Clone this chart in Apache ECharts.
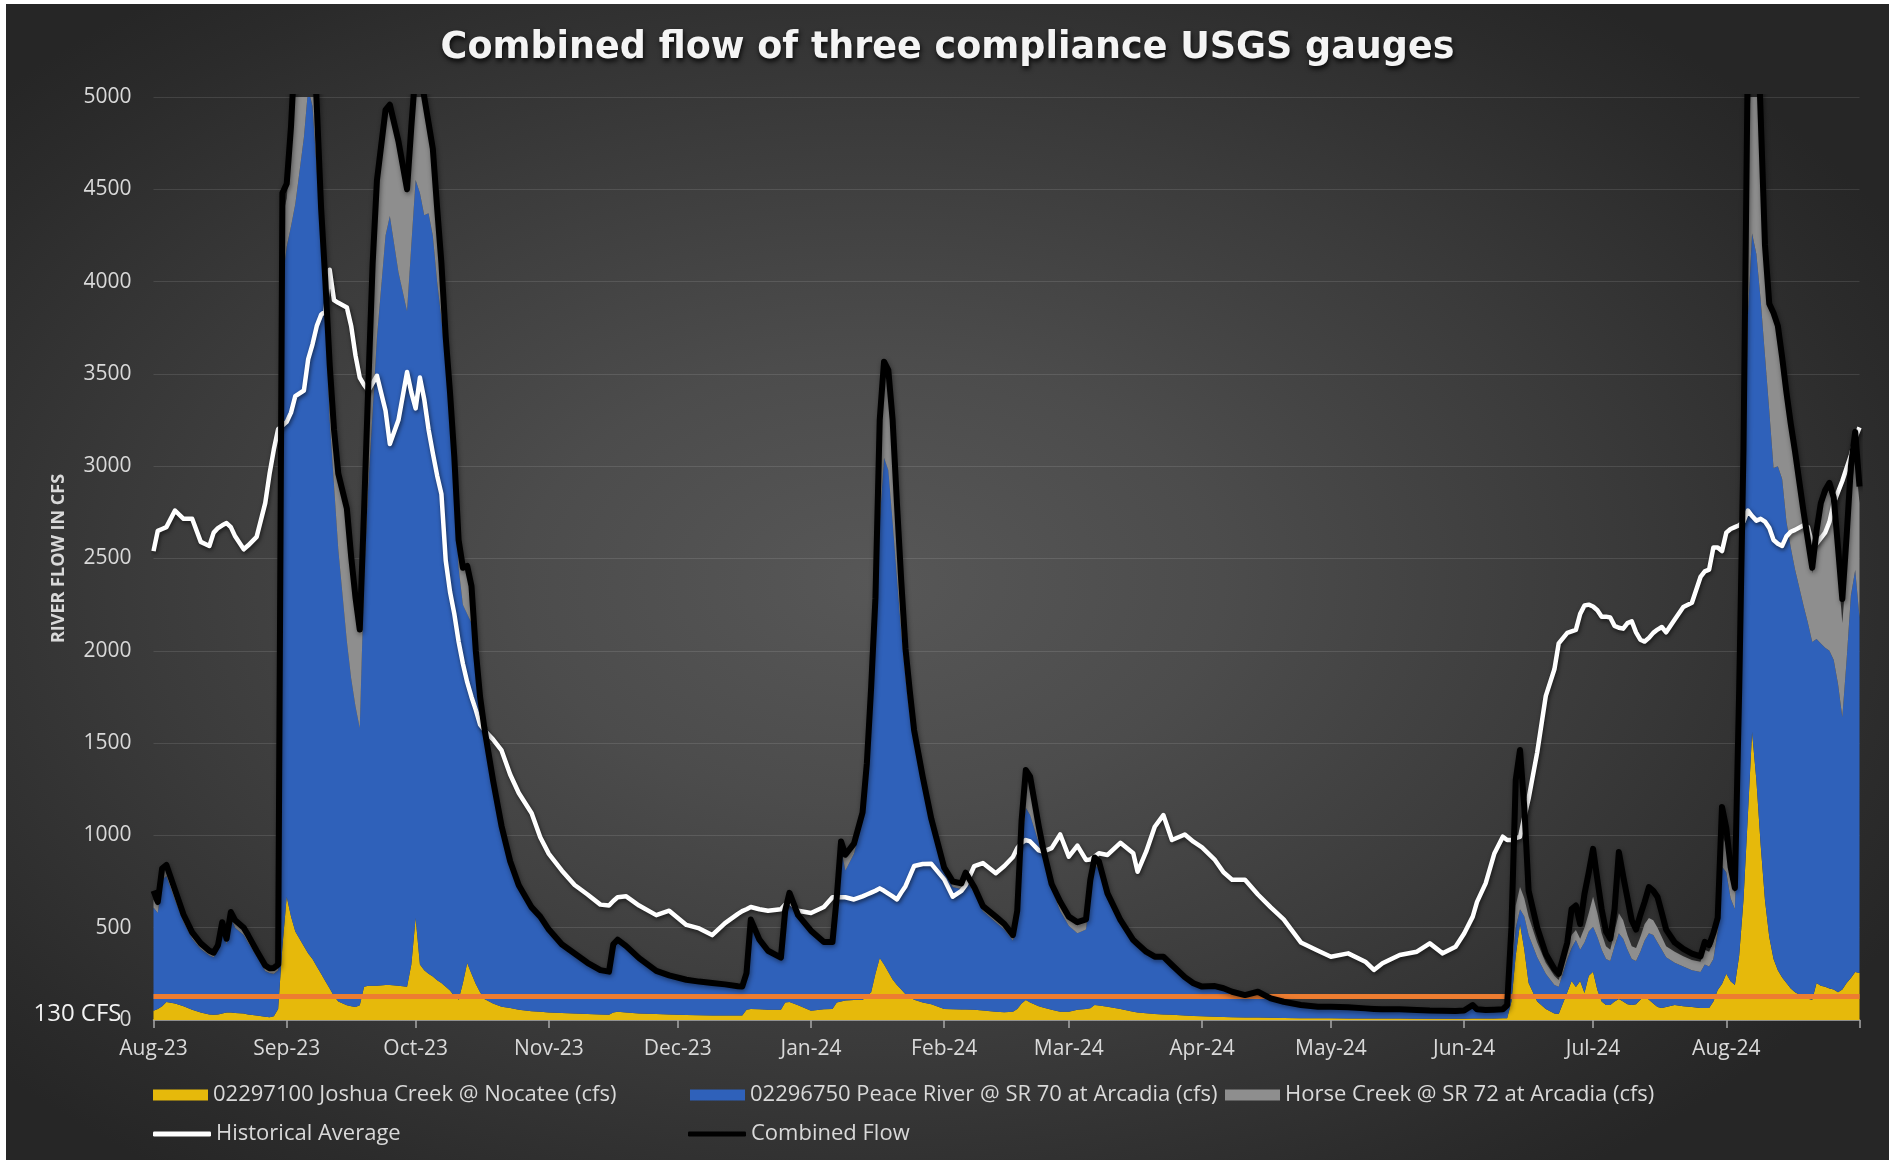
<!DOCTYPE html>
<html>
<head>
<meta charset="utf-8">
<script src="https://cdn.jsdelivr.net/npm/echarts@6/dist/echarts.min.js"></script>
<style>
html, body { margin: 0; padding: 0; background: #ffffff; width: 1896px; height: 1160px; overflow: hidden; }
#frame { position: absolute; left: 6px; top: 4px; width: 1883px; height: 1156px;
  background: radial-gradient(ellipse 62% 64% at 46% 50%, #575757 0%, #4c4c4c 30%, #3b3b3b 62%, #2b2b2b 90%, #262626 100%); }
#chart { width: 1883px; height: 1156px; }
</style>
</head>
<body>
<div id="frame"><div id="chart"></div></div>
<script>
const titleText = 'Combined flow of three compliance USGS gauges';
const yAxisTitle = 'RIVER FLOW IN CFS';
const thresholdValue = 130;
const thresholdLabel = '130 CFS';

const nameJoshua = '02297100 Joshua Creek @ Nocatee (cfs)';
const namePeace = '02296750 Peace River @ SR 70 at Arcadia (cfs)';
const nameHorse = 'Horse Creek @ SR 72 at Arcadia (cfs)';
const nameHist = 'Historical Average';
const nameComb = 'Combined Flow';

const axisStart = '2023-08-01';
const axisEnd = '2024-09-01';
const monthStarts = ['2023-08-01','2023-09-01','2023-10-01','2023-11-01','2023-12-01','2024-01-01','2024-02-01','2024-03-01','2024-04-01','2024-05-01','2024-06-01','2024-07-01','2024-08-01'];
const monthLabels = ['Aug-23','Sep-23','Oct-23','Nov-23','Dec-23','Jan-24','Feb-24','Mar-24','Apr-24','May-24','Jun-24','Jul-24','Aug-24'];
const tickDates = monthStarts.concat([axisEnd]);

const dates = [
'2023-08-01','2023-08-02','2023-08-03','2023-08-04','2023-08-06','2023-08-08','2023-08-10','2023-08-12','2023-08-14','2023-08-15','2023-08-16','2023-08-17','2023-08-18','2023-08-19','2023-08-20','2023-08-22','2023-08-23','2023-08-25','2023-08-27','2023-08-28','2023-08-29','2023-08-30','2023-08-31',
'2023-09-01','2023-09-02','2023-09-03','2023-09-05','2023-09-06','2023-09-07','2023-09-08','2023-09-09','2023-09-10','2023-09-11','2023-09-12','2023-09-13','2023-09-15','2023-09-16','2023-09-17','2023-09-18','2023-09-19','2023-09-20','2023-09-21','2023-09-22','2023-09-24','2023-09-25','2023-09-27','2023-09-29','2023-09-30',
'2023-10-01','2023-10-02','2023-10-03','2023-10-04','2023-10-05','2023-10-06','2023-10-07','2023-10-08','2023-10-09','2023-10-10','2023-10-11','2023-10-12','2023-10-13','2023-10-14','2023-10-15','2023-10-16','2023-10-17','2023-10-19','2023-10-21','2023-10-23','2023-10-25','2023-10-28','2023-10-30',
'2023-11-01','2023-11-04','2023-11-07','2023-11-10','2023-11-13','2023-11-15','2023-11-16','2023-11-17','2023-11-19','2023-11-22','2023-11-26','2023-11-29',
'2023-12-03','2023-12-06','2023-12-09','2023-12-12','2023-12-15','2023-12-16','2023-12-17','2023-12-18','2023-12-20','2023-12-22','2023-12-25','2023-12-26','2023-12-27','2023-12-29',
'2024-01-01','2024-01-04','2024-01-06','2024-01-07','2024-01-08','2024-01-09','2024-01-11','2024-01-13','2024-01-14','2024-01-15','2024-01-16','2024-01-17','2024-01-18','2024-01-19','2024-01-20','2024-01-21','2024-01-22','2024-01-23','2024-01-24','2024-01-25','2024-01-27','2024-01-29',
'2024-02-01','2024-02-03','2024-02-05','2024-02-06','2024-02-08','2024-02-10','2024-02-13','2024-02-15','2024-02-17','2024-02-18','2024-02-19','2024-02-20','2024-02-21','2024-02-23','2024-02-24','2024-02-26','2024-02-28',
'2024-03-01','2024-03-03','2024-03-05','2024-03-06','2024-03-07','2024-03-08','2024-03-10','2024-03-13','2024-03-16','2024-03-17','2024-03-19','2024-03-21','2024-03-23','2024-03-25','2024-03-28','2024-03-30',
'2024-04-01','2024-04-04','2024-04-06','2024-04-08','2024-04-11','2024-04-14','2024-04-17','2024-04-20','2024-04-24','2024-04-28',
'2024-05-01','2024-05-05','2024-05-09','2024-05-11','2024-05-13','2024-05-17','2024-05-21','2024-05-24','2024-05-27','2024-05-30',
'2024-06-01','2024-06-03','2024-06-04','2024-06-06','2024-06-08','2024-06-10','2024-06-11','2024-06-12','2024-06-13','2024-06-14','2024-06-15','2024-06-16','2024-06-18','2024-06-20','2024-06-22','2024-06-23','2024-06-25','2024-06-26','2024-06-27','2024-06-28','2024-06-29','2024-06-30',
'2024-07-01','2024-07-02','2024-07-03','2024-07-04','2024-07-05','2024-07-06','2024-07-07','2024-07-08','2024-07-09','2024-07-10','2024-07-11','2024-07-12','2024-07-13','2024-07-14','2024-07-15','2024-07-16','2024-07-17','2024-07-18','2024-07-20','2024-07-22','2024-07-24','2024-07-26','2024-07-27','2024-07-28','2024-07-29','2024-07-30','2024-07-31',
'2024-08-01','2024-08-02','2024-08-03','2024-08-04','2024-08-05','2024-08-06','2024-08-07','2024-08-08','2024-08-09','2024-08-10','2024-08-11','2024-08-12','2024-08-13','2024-08-14','2024-08-15','2024-08-16','2024-08-17','2024-08-19','2024-08-20','2024-08-21','2024-08-22','2024-08-23','2024-08-24','2024-08-25','2024-08-26','2024-08-27','2024-08-28','2024-08-29','2024-08-30','2024-08-31','2024-09-01'
];

const joshua = [
50,60,75,97,90,75,55,40,30,28,30,35,40,40,38,35,30,25,18,15,20,60,400,
668,560,480,400,360,330,290,250,210,170,130,100,80,75,70,80,180,185,185,185,190,190,185,180,300,
553,300,270,250,235,215,200,180,160,130,110,200,309,250,195,150,114,90,72,65,55,48,45,
40,38,35,33,30,28,40,45,40,35,32,30,
27,26,25,24,24,25,55,60,58,55,55,95,97,80,
50,58,60,95,100,105,109,109,130,150,250,336,300,260,220,190,165,140,125,110,95,85,
60,58,57,57,56,52,45,42,45,60,90,109,95,75,68,55,45,
45,55,60,63,81,78,72,60,45,40,36,33,30,28,24,22,
20,18,16,15,14,13,12,11,10,9,
9,8,8,8,8,8,7,7,7,7,
7,8,8,8,8,9,10,100,350,520,380,200,100,60,35,33,150,211,179,211,146,240,
262,163,100,81,81,100,114,100,85,81,85,110,130,110,90,70,65,70,81,75,70,65,65,65,100,163,195,
250,210,190,350,650,1100,1560,1300,950,650,450,330,270,230,200,170,150,125,115,110,200,185,180,170,165,150,165,200,228,260,255
];

const peace = [
560,520,685,683,560,455,385,345,320,312,350,465,370,510,462,425,390,320,247,240,230,210,3600,
3522,3740,3940,4380,4690,4620,4310,4000,3640,3080,2770,2450,1970,1775,1630,1500,2220,2715,3115,3515,4060,4166,3865,3660,3900,
3997,4180,4090,4120,4015,3785,3600,3370,3140,2820,2340,2050,1891,1900,1755,1550,1436,1180,958,775,655,547,500,
435,357,310,267,230,227,355,375,345,290,226,205,
185,176,170,164,154,150,190,460,367,310,275,480,578,475,
422,354,350,555,830,705,791,971,1200,1570,1930,2364,2746,2720,2480,2210,1935,1710,1525,1390,1175,975,
740,662,653,708,634,538,485,448,385,480,860,1041,1015,885,812,655,545,
465,415,430,637,759,742,588,465,375,360,322,300,305,262,201,170,
155,160,150,133,116,135,100,84,67,59,
59,57,51,49,46,46,43,41,40,39,
41,67,46,42,44,46,50,150,150,80,180,260,240,190,155,147,180,179,254,169,274,240,
243,287,280,249,239,300,356,340,295,249,235,260,300,360,370,350,315,270,229,215,200,195,235,225,230,317,635,
550,450,410,950,1850,2700,2700,2850,2950,2950,2850,2660,2730,2700,2500,2390,2290,2118,2035,1938,1864,1855,1836,1830,1785,1670,1475,1750,2072,2178,1925
];

const horse = [
40,40,40,40,40,30,25,20,18,20,20,25,25,30,35,35,35,25,25,20,25,20,350,
260,450,680,720,550,350,300,150,150,300,300,410,710,650,580,530,350,500,750,800,650,584,670,640,600,
550,620,620,470,450,380,300,150,80,80,130,190,250,180,40,40,20,20,15,15,15,10,10,
10,10,10,8,8,7,10,10,10,7,6,5,
4,4,4,3,3,3,5,15,7,7,6,10,10,8,
8,8,8,10,25,70,40,30,40,60,80,500,494,520,500,380,260,150,110,60,40,25,
20,25,25,25,25,20,25,25,25,40,110,170,190,70,35,20,40,
40,50,45,40,30,30,20,10,8,8,7,7,5,5,5,4,
4,3,3,3,3,3,3,2,2,2,
2,2,2,2,2,2,2,2,2,2,
2,3,2,2,2,2,10,50,120,120,100,100,80,60,50,37,60,70,55,60,80,100,
163,130,90,70,60,80,108,100,80,70,70,80,90,82,80,80,70,60,60,55,55,55,80,80,90,60,170,
150,100,90,300,400,800,1040,1150,800,550,550,820,740,630,670,640,610,477,420,372,556,740,814,880,810,630,510,500,550,612,620
];

const combined = [
700,640,820,840,705,570,475,415,375,365,405,530,440,585,540,500,460,375,295,280,282,300,4480,
4530,4840,5300,5700,5800,5500,4950,4400,4000,3550,3200,2960,2770,2510,2290,2115,2760,3450,4100,4550,4930,4958,4760,4500,4840,
5150,5150,5000,4860,4720,4400,4100,3700,3400,3050,2600,2450,2460,2350,2000,1750,1580,1300,1050,860,730,610,560,
490,410,360,310,270,262,410,435,400,335,266,242,
218,208,201,193,183,181,254,544,435,375,338,592,689,568,
484,423,423,665,967,895,955,1124,1390,1801,2285,3252,3566,3520,3250,2800,2380,2010,1780,1570,1318,1090,
825,750,740,798,720,617,560,520,460,592,1076,1354,1318,1050,931,737,640,
560,530,545,758,880,860,686,542,433,412,370,343,343,298,232,199,
181,184,172,153,135,153,117,99,81,72,
72,69,63,60,58,58,54,51,50,49,
51,81,58,54,56,58,80,500,1300,1463,1150,700,500,358,276,250,420,601,620,520,683,800,
927,760,600,480,440,600,910,780,660,540,490,570,640,720,700,666,580,490,420,385,360,345,423,406,470,553,1154,
1040,830,715,1788,3088,5200,5800,5600,4900,4200,3880,3830,3760,3590,3400,3230,3080,2750,2600,2450,2650,2800,2870,2910,2830,2560,2280,2620,3000,3186,2890
];

const historical = [
2540,2650,2660,2670,2760,2715,2715,2590,2568,2640,2665,2680,2692,2670,2620,2550,2570,2617,2800,2958,3090,3200,3220,
3240,3290,3380,3410,3580,3660,3760,3820,3840,4064,3900,3885,3860,3760,3600,3480,3440,3410,3450,3490,3300,3120,3250,3510,3400,
3313,3480,3363,3200,3071,2950,2850,2490,2320,2200,2050,1930,1830,1750,1680,1600,1570,1520,1460,1330,1230,1120,990,
900,810,731,680,625,620,645,665,670,620,568,592,
515,496,460,525,575,590,600,612,600,592,600,625,641,592,
580,612,665,665,665,665,653,670,680,690,700,713,700,685,670,653,690,725,780,834,845,846,
762,668,700,731,834,850,795,834,883,931,960,975,967,919,912,931,1005,
885,945,867,870,885,903,894,960,903,803,912,1047,1110,975,1005,966,
935,867,800,760,760,680,610,545,420,375,
343,361,316,271,307,352,370,415,361,397,
469,560,640,740,900,993,975,975,985,992,1100,1200,1450,1756,1900,2040,2097,2105,2113,2200,2245,2250,
2240,2220,2185,2185,2180,2135,2125,2120,2150,2160,2100,2060,2050,2070,2097,2115,2129,2100,2170,2237,2260,2400,2430,2440,2560,2560,2540,
2640,2660,2670,2680,2700,2760,2730,2705,2715,2700,2666,2600,2580,2568,2620,2645,2655,2680,2670,2575,2580,2610,2640,2698,2800,2860,2920,2990,3060,3150,3210
];

const FONT = '"Open Sans", "DejaVu Sans", sans-serif';
const TITLE_FONT = '"DejaVu Sans", "Open Sans", sans-serif';
const DAY = 86400000;
const ts = s => Date.UTC(+s.slice(0, 4), +s.slice(5, 7) - 1, +s.slice(8, 10));
const dayNum = s => Math.round((ts(s) - ts(axisStart)) / DAY);
// value first, day second: the value dimension is the one ECharts stacks
const pairs = arr => dates.map((d, i) => [arr[i], dayNum(d)]);
const ENC = { x: 1, y: 0 };
const labelByDay = {};
monthStarts.forEach((d, i) => { labelByDay[dayNum(d)] = monthLabels[i]; });

const areaSeries = (name, arr, color) => ({
  name, type: 'line', stack: 'flow', data: pairs(arr), encode: ENC, symbol: 'none', showSymbol: false,
  color: color, itemStyle: { color: color },
  lineStyle: { width: 0, color: color }, areaStyle: { color: color, opacity: 1 },
  z: 2
});

const legendCommon = {
  padding: 0, selectedMode: false, orient: 'horizontal',
  textStyle: { color: '#d9d9d9', fontSize: 22, fontFamily: FONT }
};

const joshuaSeries = areaSeries(nameJoshua, joshua, '#e6b90b');
joshuaSeries.markLine = {
  silent: true, symbol: ['none', 'none'], z: 5, animation: false,
  lineStyle: { color: '#ed7d31', width: 5, type: 'solid', opacity: 1 },
  label: { show: true, position: 'start', formatter: thresholdLabel, color: '#f2f2f2', fontSize: 24, fontFamily: FONT,
    distance: 32, verticalAlign: 'top', lineHeight: 36 },
  emphasis: { disabled: true },
  data: [{ yAxis: thresholdValue }]
};

const chart = echarts.init(document.getElementById('chart'), null, { renderer: 'canvas' });
chart.setOption({
  animation: false,
  backgroundColor: 'transparent',
  textStyle: { fontFamily: FONT },
  title: {
    text: titleText, left: 'center', top: 21,
    textStyle: { color: '#f4f4f4', fontSize: 36.5, fontWeight: 'bold', fontFamily: TITLE_FONT,
      textShadowColor: 'rgba(0,0,0,0.85)', textShadowBlur: 5, textShadowOffsetX: 1, textShadowOffsetY: 3 }
  },
  grid: { left: 147.5, right: 29.5, top: 93, bottom: 140, containLabel: false, outerBoundsMode: 'none' },
  legend: [
    Object.assign({}, legendCommon, { data: [{ name: nameJoshua, icon: 'rect' }], left: 147, top: 1080, itemWidth: 55, itemHeight: 11 }),
    Object.assign({}, legendCommon, { data: [{ name: namePeace, icon: 'rect' }], left: 684, top: 1080, itemWidth: 55, itemHeight: 11 }),
    Object.assign({}, legendCommon, { data: [{ name: nameHorse, icon: 'rect' }], left: 1219, top: 1080, itemWidth: 55, itemHeight: 11 }),
    Object.assign({}, legendCommon, { data: [{ name: nameHist, icon: 'roundRect' }], left: 147, top: 1119, itemWidth: 58, itemHeight: 5 }),
    Object.assign({}, legendCommon, { data: [{ name: nameComb, icon: 'roundRect' }], left: 682, top: 1119, itemWidth: 58, itemHeight: 5 })
  ],
  xAxis: {
    type: 'value', min: dayNum(axisStart), max: dayNum(axisEnd),
    axisLine: { show: true, lineStyle: { color: '#a8a8a8', width: 1.5 } },
    axisTick: { show: true, length: 8, customValues: tickDates.map(dayNum), lineStyle: { color: '#a8a8a8', width: 1.5 } },
    axisLabel: { customValues: monthStarts.map(dayNum), formatter: v => labelByDay[Math.round(v)] || '', color: '#d9d9d9', fontSize: 21, fontFamily: FONT, margin: 19, hideOverlap: false },
    splitLine: { show: false }
  },
  yAxis: {
    type: 'value', min: 0, max: 5000, interval: 500,
    axisLine: { show: false }, axisTick: { show: false },
    axisLabel: { color: '#d9d9d9', fontSize: 21, fontFamily: FONT, margin: 22, formatter: v => String(v) },
    splitLine: { lineStyle: { color: 'rgba(255,255,255,0.11)', width: 1 } },
    name: yAxisTitle, nameLocation: 'middle', nameRotate: 90, nameGap: 86,
    nameTextStyle: { color: '#d9d9d9', fontSize: 18, fontWeight: 'bold', fontFamily: FONT }
  },
  series: [
    joshuaSeries,
    areaSeries(namePeace, peace, '#2f61ba'),
    areaSeries(nameHorse, horse, '#8e8e8e'),
    {
      name: nameHist, type: 'line', data: pairs(historical), encode: ENC, symbol: 'none', showSymbol: false, z: 6,
      color: '#ffffff', itemStyle: { color: '#ffffff' },
      lineStyle: { color: '#ffffff', width: 4.5, join: 'round', shadowColor: 'rgba(0,0,0,0.6)', shadowBlur: 4, shadowOffsetX: 1, shadowOffsetY: 2 }
    },
    {
      name: nameComb, type: 'line', data: pairs(combined), encode: ENC, symbol: 'none', showSymbol: false, z: 7,
      color: '#000000', itemStyle: { color: '#000000' },
      lineStyle: { color: '#000000', width: 6, join: 'round', shadowColor: 'rgba(0,0,0,0.45)', shadowBlur: 5, shadowOffsetX: 1, shadowOffsetY: 2 }
    }
  ]
});
</script>
</body>
</html>
